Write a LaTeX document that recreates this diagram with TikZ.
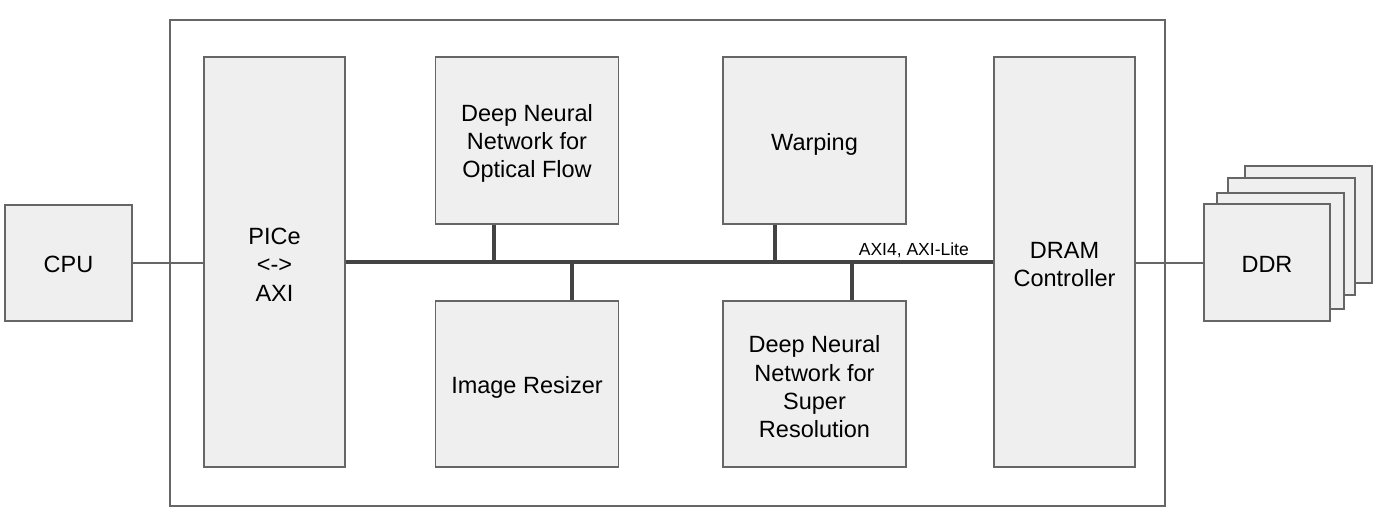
\documentclass[tikz,border=0pt]{standalone}
\usepackage{fontspec}
\setmainfont{Liberation Sans}
\definecolor{boxfill}{HTML}{EFEFEF}
\definecolor{boxline}{HTML}{666666}
\definecolor{busline}{HTML}{434343}
\begin{document}
\begin{tikzpicture}[x=1pt,y=-1pt,
  blk/.style={draw=boxline,fill=boxfill,line width=1.3pt,inner sep=0pt},
  txt/.style={align=center,inner sep=0pt,font=\fontsize{23.5}{28.3}\selectfont},
  thin/.style={draw=boxline,line width=1.2pt},
  bus/.style={draw=busline,line width=4pt},
  lbl/.style={font=\fontsize{17.5}{20}\selectfont,inner sep=0pt}]
\useasboundingbox (0,0) rectangle (1383,517);
% outer box
\node[draw=boxline,line width=1.8pt,inner sep=0pt,minimum width=995pt,minimum height=486pt] (outer) at (667.5,263) {};
% CPU
\node[blk,minimum width=127pt,minimum height=116pt,label={[txt,yshift=-1.5pt]center:CPU}] (cpu) at (68.5,263) {};
% PCIe
\node[blk,minimum width=141pt,minimum height=410pt,label={[txt,yshift=-2.5pt]center:{PICe\\<->\\AXI}}] (pcie) at (274.5,262) {};
% DRAM
\node[blk,minimum width=141pt,minimum height=410pt,label={[txt,yshift=-2.5pt]center:{DRAM\\Controller}}] (dram) at (1064.5,262) {};
% middle blocks
\node[blk,minimum width=183pt,minimum height=167pt,label={[txt,yshift=-3pt]center:{Deep Neural\\Network for\\Optical Flow}}] (flow) at (527,140.5) {};
\node[blk,minimum width=183pt,minimum height=167pt,label={[txt,yshift=-4pt]center:Warping}] (warp) at (814.5,140.5) {};
\node[blk,minimum width=183pt,minimum height=166pt,label={[txt,yshift=-3pt]center:Image Resizer}] (resize) at (527,384) {};
\node[blk,minimum width=183pt,minimum height=166pt,label={[txt,yshift=-3pt]center:{Deep Neural\\Network for\\Super\\Resolution}}] (sr) at (814.5,384) {};
% DDR stack
\node[blk,minimum width=127pt,minimum height=117pt] (ddr4) at (1308.5,224.5) {};
\node[blk,minimum width=127pt,minimum height=117pt] (ddr3) at (1291.5,236.5) {};
\node[blk,minimum width=127pt,minimum height=116pt] (ddr2) at (1280.5,251) {};
\node[blk,minimum width=126pt,minimum height=117pt,label={[txt,yshift=-1.5pt]center:DDR}] (ddr) at (1267,262.5) {};
% thin links
\draw[thin] (cpu.east |- 0,263) -- (pcie.west |- 0,263);
\draw[thin] (dram.east |- 0,263) -- (ddr.west |- 0,263);
% bus
\draw[bus] (pcie.east) -- (dram.west);
\draw[bus] ([xshift=-33pt]flow.south) -- ([xshift=-33pt]flow.south |- pcie.east);
\draw[bus] ([xshift=45pt]resize.north) -- ([xshift=45pt]resize.north |- pcie.east);
\draw[bus] ([xshift=-39.5pt]warp.south) -- ([xshift=-39.5pt]warp.south |- pcie.east);
\draw[bus] ([xshift=37.5pt]sr.north) -- ([xshift=37.5pt]sr.north |- pcie.east);
\node[lbl,anchor=base east] (axilbl) at (969,255) {AXI4, AXI-Lite};
\end{tikzpicture}
\end{document}
